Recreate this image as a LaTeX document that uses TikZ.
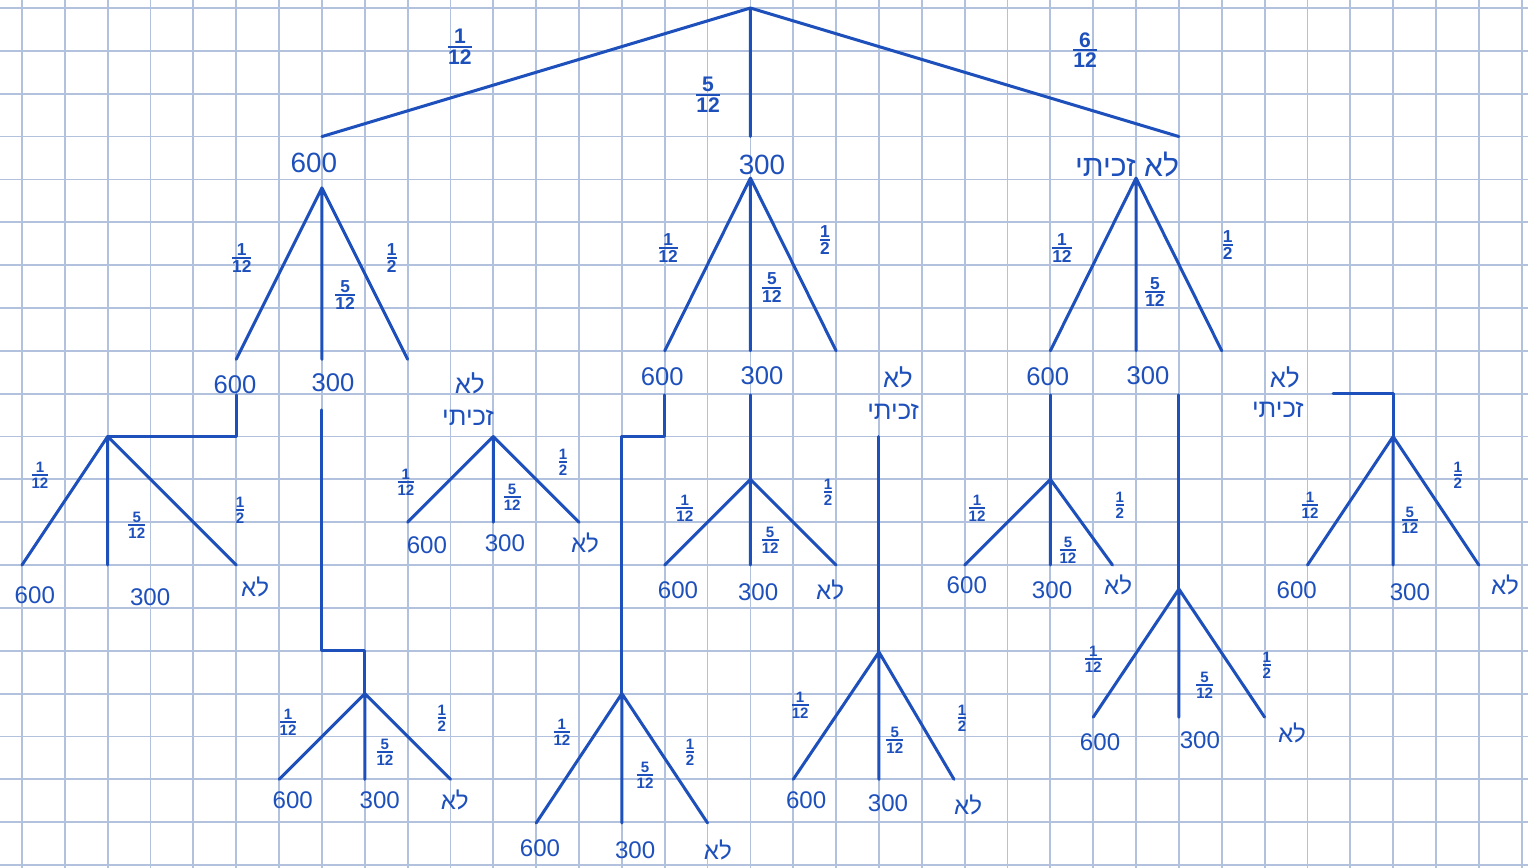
\documentclass[tikz,border=0pt]{standalone}
\usepackage{fontspec}
\usepackage{amsmath}
\setmainfont{Liberation Sans}
\newfontfamily\heb[Script=Hebrew]{Liberation Sans}
\TeXXeTstate=1
\definecolor{ink}{RGB}{30,80,188}
\definecolor{gridblue}{RGB}{178,194,222}
% stacked fraction with a heavy bar
\newcommand\pfrac[2]{$\genfrac{}{}{1.2pt}{}{\mbox{#1}}{\mbox{#2}}$}
\newcommand\lozach{\heb\beginR לא זכיתי\endR}
\newcommand\lo{\heb\beginR לא\endR}
\newcommand\zach{\heb\beginR זכיתי\endR}
% three branches from one apex
\newcommand\fork[4]{\draw[branch] (#1) -- (#2) (#1) -- (#3) (#1) -- (#4);}
\begin{document}
\begin{tikzpicture}[x=1cm, y=-1cm,
  branch/.style={draw=ink, line width=2pt, line cap=round, line join=round},
  gridline/.style={draw=gridblue, line width=1.2pt},
  valtop/.style={text=ink, inner sep=0pt, font=\fontsize{18.5}{20}\selectfont},
  valmid/.style={text=ink, inner sep=0pt, font=\fontsize{17}{19}\selectfont},
  valleaf/.style={text=ink, inner sep=0pt, font=\fontsize{16}{18}\selectfont},
  prtop/.style={text=ink, inner sep=0pt, font=\fontsize{14}{16}\selectfont\bfseries},
  prmid/.style={text=ink, inner sep=0pt, font=\fontsize{11.5}{13}\selectfont\bfseries},
  prlow/.style={text=ink, inner sep=0pt, font=\fontsize{10}{11}\selectfont\bfseries}]
% paper and squared grid
\fill[white] (-0.513,-0.187) rectangle (35.147,20.07);
\useasboundingbox (-0.513,-0.187) rectangle (35.147,20.07);
\foreach \i in {0,...,35} \draw[gridline] (\i,-0.187) -- (\i,20.07);
\foreach \j in {0,...,20} \draw[gridline] (-0.513,\j) -- (35.147,\j);

% ---------- first draw ----------
\coordinate (root) at (17,0);
\coordinate (t1) at (7,3);
\coordinate (t2) at (17,3);
\coordinate (t3) at (27,3);
\fork{root}{t1}{t2}{t3}
\node[prtop] (p1) at (10.22,0.91) {\pfrac{1}{12}};
\node[prtop] (p2) at (16.01,2.03) {\pfrac{5}{12}};
\node[prtop] (p3) at (24.81,0.98) {\pfrac{6}{12}};
\node[valtop] (n600) at (6.81,3.62) {600};
\node[valtop] (n300) at (17.27,3.66) {300};
\node[valtop, font=\fontsize{20}{22}\selectfont] (nlo) at (25.79,3.66) {\lozach};

% ---------- second draw after 600 ----------
\coordinate (La) at (7,4.2);
\coordinate (L1) at (5,8.2);
\coordinate (L2) at (7,8.2);
\coordinate (L3) at (9,8.2);
\fork{La}{L1}{L2}{L3}
\node[prmid] at (5.13,5.83) {\pfrac{1}{12}};
\node[prmid] at (7.54,6.70) {\pfrac{5}{12}};
\node[prmid] at (8.63,5.83) {\pfrac{1}{2}};
\node[valmid] (L600) at (4.97,8.80) {600};
\node[valmid] (L300) at (7.26,8.75) {300};
\node[valmid] (Llo) at (10.45,8.75) {\lo};
\node[valmid] (Lzach) at (10.41,9.57) {\zach};

% ---------- second draw after 300 ----------
\coordinate (Ma) at (17,3.97);
\coordinate (M1) at (15,8);
\coordinate (M2) at (17,8);
\coordinate (M3) at (19,8);
\fork{Ma}{M1}{M2}{M3}
\node[prmid] at (15.08,5.6) {\pfrac{1}{12}};
\node[prmid] at (17.5,6.53) {\pfrac{5}{12}};
\node[prmid] at (18.74,5.41) {\pfrac{1}{2}};
\node[valmid] (M600) at (14.94,8.61) {600};
\node[valmid] (M300) at (17.27,8.59) {300};
\node[valmid] (Mlo) at (20.44,8.63) {\lo};
\node[valmid] (Mzach) at (20.33,9.43) {\zach};

% ---------- second draw after no win ----------
\coordinate (Ra) at (26,3.97);
\coordinate (R1) at (24,8);
\coordinate (R2) at (26,8);
\coordinate (R3) at (28,8);
\fork{Ra}{R1}{R2}{R3}
\node[prmid] at (24.27,5.6) {\pfrac{1}{12}};
\node[prmid] at (26.44,6.63) {\pfrac{5}{12}};
\node[prmid] at (28.14,5.53) {\pfrac{1}{2}};
\node[valmid] (R600) at (23.94,8.61) {600};
\node[valmid] (R300) at (26.28,8.59) {300};
\node[valmid] (Rlo) at (29.47,8.63) {\lo};
\node[valmid] (Rzach) at (29.31,9.38) {\zach};

% ---------- third draws ----------
% 600 -> 600
\coordinate (As) at (5,9.03);
\coordinate (Ak) at (5,10);
\coordinate (Aa) at (2,10);
\coordinate (A1) at (0,13);
\coordinate (A2) at (2,13);
\coordinate (A3) at (5,13);
\draw[branch] (As) -- (Ak) -- (Aa);
\fork{Aa}{A1}{A2}{A3}
\node[prlow] at (0.42,10.9) {\pfrac{1}{12}};
\node[prlow] at (2.68,12.07) {\pfrac{5}{12}};
\node[prlow] at (5.09,11.72) {\pfrac{1}{2}};
\node[valleaf] at (0.3,13.7) {600};
\node[valleaf] at (2.99,13.75) {300};
\node[valleaf] at (5.44,13.51) {\lo};

% 600 -> 300
\coordinate (Bs) at (7,9.38);
\coordinate (Bk1) at (7,15);
\coordinate (Bk2) at (8,15);
\coordinate (Ba) at (8,16);
\coordinate (B1) at (6,18);
\coordinate (B2) at (8,18);
\coordinate (B3) at (10,18);
\draw[branch] (Bs) -- (Bk1) -- (Bk2) -- (Ba);
\fork{Ba}{B1}{B2}{B3}
\node[prlow] at (6.21,16.66) {\pfrac{1}{12}};
\node[prlow] at (8.47,17.36) {\pfrac{5}{12}};
\node[prlow] at (9.8,16.57) {\pfrac{1}{2}};
\node[valleaf] at (6.32,18.48) {600};
\node[valleaf] at (8.35,18.48) {300};
\node[valleaf] at (10.1,18.48) {\lo};

% 600 -> no win
\coordinate (Ca) at (11,10);
\coordinate (C1) at (9,12);
\coordinate (C2) at (11,12);
\coordinate (C3) at (13,12);
\fork{Ca}{C1}{C2}{C3}
\node[prlow] at (8.96,11.06) {\pfrac{1}{12}};
\node[prlow] at (11.44,11.41) {\pfrac{5}{12}};
\node[prlow] at (12.63,10.6) {\pfrac{1}{2}};
\node[valleaf] at (9.45,12.53) {600};
\node[valleaf] at (11.27,12.49) {300};
\node[valleaf] at (13.14,12.49) {\lo};

% 300 -> 600
\coordinate (Ds) at (15,9.03);
\coordinate (Dk1) at (15,10);
\coordinate (Dk2) at (14,10);
\coordinate (Da) at (14,16);
\coordinate (D1) at (12,19.02);
\coordinate (D2) at (14,19.02);
\coordinate (D3) at (16,19.02);
\draw[branch] (Ds) -- (Dk1) -- (Dk2) -- (Da);
\fork{Da}{D1}{D2}{D3}
\node[prlow] at (12.6,16.9) {\pfrac{1}{12}};
\node[prlow] at (14.54,17.9) {\pfrac{5}{12}};
\node[prlow] at (15.59,17.36) {\pfrac{1}{2}};
\node[valleaf] at (12.09,19.6) {600};
\node[valleaf] at (14.31,19.65) {300};
\node[valleaf] at (16.24,19.65) {\lo};

% 300 -> 300
\coordinate (Es) at (17,9.03);
\coordinate (Ea) at (17,11);
\coordinate (E1) at (15,13);
\coordinate (E2) at (17,13);
\coordinate (E3) at (19,13);
\draw[branch] (Es) -- (Ea);
\fork{Ea}{E1}{E2}{E3}
\node[prlow] at (15.47,11.67) {\pfrac{1}{12}};
\node[prlow] at (17.46,12.42) {\pfrac{5}{12}};
\node[prlow] at (18.81,11.3) {\pfrac{1}{2}};
\node[valleaf] at (15.31,13.58) {600};
\node[valleaf] at (17.18,13.63) {300};
\node[valleaf] at (18.86,13.58) {\lo};

% 300 -> no win
\coordinate (Fs) at (20,10);
\coordinate (Fa) at (20,15.03);
\coordinate (F1) at (18,18);
\coordinate (F2) at (20,18);
\coordinate (F3) at (21.75,18);
\draw[branch] (Fs) -- (Fa);
\fork{Fa}{F1}{F2}{F3}
\node[prlow] at (18.16,16.27) {\pfrac{1}{12}};
\node[prlow] at (20.37,17.08) {\pfrac{5}{12}};
\node[prlow] at (21.94,16.57) {\pfrac{1}{2}};
\node[valleaf] at (18.3,18.48) {600};
\node[valleaf] at (20.21,18.55) {300};
\node[valleaf] at (22.08,18.6) {\lo};

% no win -> 600
\coordinate (Gs) at (24,9.03);
\coordinate (Ga) at (24,11);
\coordinate (G1) at (22,13);
\coordinate (G2) at (24,13);
\coordinate (G3) at (25.45,13);
\draw[branch] (Gs) -- (Ga);
\fork{Ga}{G1}{G2}{G3}
\node[prlow] at (22.29,11.67) {\pfrac{1}{12}};
\node[prlow] at (24.41,12.65) {\pfrac{5}{12}};
\node[prlow] at (25.62,11.6) {\pfrac{1}{2}};
\node[valleaf] at (22.05,13.47) {600};
\node[valleaf] at (24.04,13.58) {300};
\node[valleaf] at (25.58,13.47) {\lo};

% no win -> 300
\coordinate (Hs) at (27,9.03);
\coordinate (Ha) at (27,13.56);
\coordinate (H1) at (25,16.55);
\coordinate (H2) at (27,16.55);
\coordinate (H3) at (29,16.55);
\draw[branch] (Hs) -- (Ha);
\fork{Ha}{H1}{H2}{H3}
\node[prlow] at (25,15.2) {\pfrac{1}{12}};
\node[prlow] at (27.6,15.8) {\pfrac{5}{12}};
\node[prlow] at (29.05,15.33) {\pfrac{1}{2}};
\node[valleaf] at (25.16,17.13) {600};
\node[valleaf] at (27.49,17.08) {300};
\node[valleaf] at (29.64,16.92) {\lo};

% no win -> no win
\coordinate (Is) at (30.6,9);
\coordinate (Ik) at (32,9);
\coordinate (Ia) at (32,10);
\coordinate (I1) at (30,13);
\coordinate (I2) at (32,13);
\coordinate (I3) at (34,13);
\draw[branch] (Is) -- (Ik) -- (Ia);
\fork{Ia}{I1}{I2}{I3}
\node[prlow] at (30.06,11.6) {\pfrac{1}{12}};
\node[prlow] at (32.39,11.95) {\pfrac{5}{12}};
\node[prlow] at (33.51,10.9) {\pfrac{1}{2}};
\node[valleaf] at (29.75,13.58) {600};
\node[valleaf] at (32.39,13.63) {300};
\node[valleaf] at (34.61,13.47) {\lo};
\end{tikzpicture}
\end{document}
